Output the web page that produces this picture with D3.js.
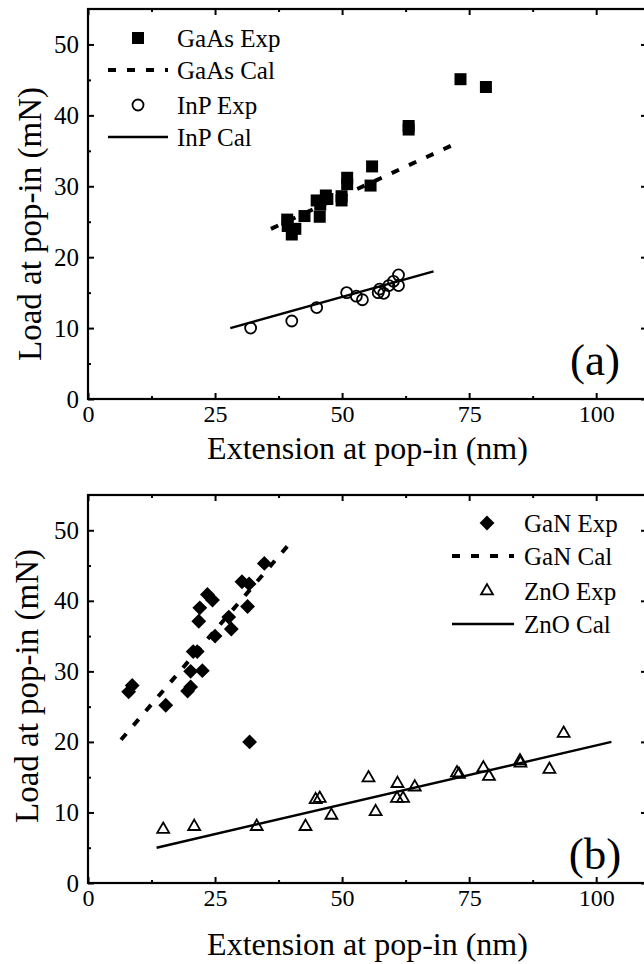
<!DOCTYPE html>
<html lang="en">
<head>
<meta charset="utf-8" />
<title>Load at pop-in vs extension</title>
<script src="https://cdn.jsdelivr.net/npm/d3@7"></script>
<style>
body { margin: 0; background: #fff; }
</style>
</head>
<body>
<div id="chart"></div>
<script>
// ---- data (x = extension nm, y = load mN) ----
var gaasExp = [[39.2,25.3],[39.3,24.4],[40.1,23.2],[40.8,24.0],[42.6,25.8],[45.0,28.0],
  [45.7,27.4],[45.6,25.7],[46.8,28.7],[47.1,28.2],[49.9,28.0],[49.9,28.6],[51.0,31.2],
  [51.0,30.3],[55.6,30.1],[55.9,32.8],[63.1,38.0],[63.1,38.5],[73.3,45.1],[78.3,44.0]];
var gaasCal = [[36,24],[72,35.9]];
var inpExp = [[32.0,10.0],[40.1,11.0],[45.0,12.9],[50.9,15.0],[52.8,14.5],[54.0,14.0],
  [57.1,15.0],[58.2,14.9],[57.4,15.5],[59.2,16.0],[60.1,16.6],[61.1,17.5],[61.1,16.0]];
var inpCal = [[28,10],[68,18]];

var ganExp = [[8.0,27.1],[8.7,28.0],[15.3,25.2],[19.6,27.2],[20.2,27.8],[20.2,30.0],
  [20.7,32.8],[21.5,32.8],[22.5,30.1],[21.8,37.1],[22.0,39.0],[23.5,40.9],[24.5,40.1],
  [25.0,35.0],[27.7,37.7],[28.2,36.0],[30.3,42.7],[31.7,42.4],[31.4,39.2],[31.8,20.0],
  [34.7,45.3]];
var ganCal = [[6.5,20.3],[39.3,47.8]];
var znoExp = [[14.8,7.6],[20.9,8.0],[33.2,8.0],[42.8,8.0],[44.8,11.8],[45.6,12.0],
  [47.9,9.6],[55.2,14.9],[56.6,10.1],[60.9,14.1],[60.8,12.0],[62.0,12.0],[64.3,13.6],
  [72.6,15.6],[73.0,15.4],[77.8,16.3],[78.9,15.1],[85.0,17.3],[85.1,17.0],[90.8,16.1],
  [93.6,21.2]];
var znoCal = [[13.5,5],[103,20]];

var xMajor = [0, 25, 50, 75, 100];
var xMinor = [12.5, 37.5, 62.5, 87.5];
var yMajor = [0, 10, 20, 30, 40, 50];
var yMinor = [5, 15, 25, 35, 45];

var xTitle = "Extension at pop-in (nm)";
var yTitle = "Load at pop-in (mN)";

var FONT = "'Liberation Serif', Tinos, 'Times New Roman', 'DejaVu Serif', serif";

var W = 644, H = 964;
var svg = d3.select("#chart").append("svg")
  .attr("width", W).attr("height", H)
  .attr("font-family", FONT);

function serif(sel, size) {
  return sel.attr("font-family", FONT).style("font-family", FONT)
    .style("font-size", size + "px").attr("fill", "#000");
}

function drawPanel(p) {
  var g = svg.append("g");
  var x = d3.scaleLinear().domain([0, 110]).range([88, 647]);
  var y = d3.scaleLinear().domain([0, 55]).range([p.bottom, p.top]);

  // ticks all point inwards
  g.append("g").attr("transform", "translate(0," + p.bottom + ")")
    .call(d3.axisBottom(x).tickValues(xMajor).tickSizeInner(-6).tickSizeOuter(0).tickPadding(6))
    .call(s => serif(s.selectAll("text"), 24));
  g.append("g").attr("transform", "translate(0," + p.bottom + ")")
    .call(d3.axisBottom(x).tickValues(xMinor).tickSizeInner(-3).tickSizeOuter(0).tickFormat(""));
  g.append("g").attr("transform", "translate(0," + p.top + ")")
    .call(d3.axisTop(x).tickValues(xMajor).tickSizeInner(-6).tickSizeOuter(0).tickFormat(""));
  g.append("g").attr("transform", "translate(0," + p.top + ")")
    .call(d3.axisTop(x).tickValues(xMinor).tickSizeInner(-3).tickSizeOuter(0).tickFormat(""));

  g.append("g").attr("transform", "translate(88,0)")
    .call(d3.axisLeft(y).tickValues(yMajor).tickSizeInner(-6).tickSizeOuter(0).tickPadding(9))
    .call(s => serif(s.selectAll("text"), 25));
  g.append("g").attr("transform", "translate(88,0)")
    .call(d3.axisLeft(y).tickValues(yMinor).tickSizeInner(-3).tickSizeOuter(0).tickFormat(""));
  g.append("g").attr("transform", "translate(647,0)")
    .call(d3.axisRight(y).tickValues(yMajor).tickSizeInner(-6).tickSizeOuter(0).tickFormat(""));
  g.append("g").attr("transform", "translate(647,0)")
    .call(d3.axisRight(y).tickValues(yMinor).tickSizeInner(-3).tickSizeOuter(0).tickFormat(""));

  g.selectAll(".domain").remove();
  g.selectAll(".tick line").attr("stroke", "#000").attr("stroke-width", 2);

  // frame
  g.append("rect")
    .attr("x", x(0)).attr("y", y(55))
    .attr("width", x(110) - x(0)).attr("height", y(0) - y(55))
    .attr("fill", "none").attr("stroke", "#000").attr("stroke-width", 2.2);

  // axis titles
  serif(g.append("text"), 32).attr("x", (x(0) + x(110)) / 2).attr("y", p.xTitleY)
    .attr("text-anchor", "middle").text(xTitle);
  serif(g.append("text"), 33)
    .attr("transform", "translate(" + p.yTitleX + "," + p.yTitleCy + ") rotate(-90)")
    .attr("text-anchor", "middle").text(yTitle);

  // calculated lines
  var line = d3.line().x(d => x(d[0])).y(d => y(d[1]));
  g.append("path").datum(p.dashed).attr("d", line)
    .attr("fill", "none").attr("stroke", "#000").attr("stroke-width", 4)
    .attr("stroke-dasharray", "8,11");
  g.append("path").datum(p.solid).attr("d", line)
    .attr("fill", "none").attr("stroke", "#000").attr("stroke-width", 2.4);

  // experimental points
  g.append("g").selectAll("path").data(p.filled).join("path")
    .attr("d", p.filledSymbol)
    .attr("transform", d => "translate(" + x(d[0]) + "," + y(d[1]) + ")" + p.filledRot)
    .attr("fill", "#000");
  g.append("g").selectAll("path").data(p.open).join("path")
    .attr("d", p.openSymbol)
    .attr("transform", d => "translate(" + x(d[0]) + "," + y(d[1]) + ")")
    .attr("fill", "none").attr("stroke", "#000").attr("stroke-width", 1.8);

  // legend
  var L = p.legend;
  g.append("path").attr("d", p.filledSymbol)
    .attr("transform", "translate(" + L.mx + "," + L.rows[0] + ")" + p.filledRot)
    .attr("fill", "#000");
  g.append("line").attr("x1", L.lx1).attr("x2", L.lx2).attr("y1", L.rows[1]).attr("y2", L.rows[1])
    .attr("stroke", "#000").attr("stroke-width", 4).attr("stroke-dasharray", "8,11");
  g.append("path").attr("d", p.openSymbol)
    .attr("transform", "translate(" + L.mx + "," + L.rows[2] + ")")
    .attr("fill", "none").attr("stroke", "#000").attr("stroke-width", 1.8);
  g.append("line").attr("x1", L.lx1).attr("x2", L.lx2).attr("y1", L.rows[3]).attr("y2", L.rows[3])
    .attr("stroke", "#000").attr("stroke-width", 2.4);
  serif(g.selectAll(".legtext").data(L.names).join("text"), 25)
    .attr("x", L.tx).attr("y", (d, i) => L.rows[i] + 8.5)
    .text(d => d);

  serif(g.append("text"), 45).attr("x", 595).attr("y", p.tagY)
    .attr("text-anchor", "middle").text(p.tag);
}

drawPanel({
  top: 9, bottom: 399, xTitleY: 459, yTitleX: 41, yTitleCy: 224,
  dashed: gaasCal, solid: inpCal, filled: gaasExp, open: inpExp,
  filledSymbol: d3.symbol(d3.symbolSquare, 144)(), filledRot: "",
  openSymbol: d3.symbol(d3.symbolCircle, 95)(),
  legend: { mx: 138, lx1: 108, lx2: 168, tx: 177, rows: [38, 70, 105, 137],
            names: ["GaAs Exp", "GaAs Cal", "InP Exp", "InP Cal"] },
  tag: "(a)", tagY: 375
});

drawPanel({
  top: 495, bottom: 883, xTitleY: 955, yTitleX: 38, yTitleCy: 686,
  dashed: ganCal, solid: znoCal, filled: ganExp, open: znoExp,
  filledSymbol: d3.symbol(d3.symbolSquare, 110)(), filledRot: " rotate(45)",
  openSymbol: d3.symbol(d3.symbolTriangle, 62)(),
  legend: { mx: 487, lx1: 452, lx2: 514, tx: 524, rows: [523, 556, 591, 624],
            names: ["GaN Exp", "GaN Cal", "ZnO Exp", "ZnO Cal"] },
  tag: "(b)", tagY: 869
});
</script>
</body>
</html>
